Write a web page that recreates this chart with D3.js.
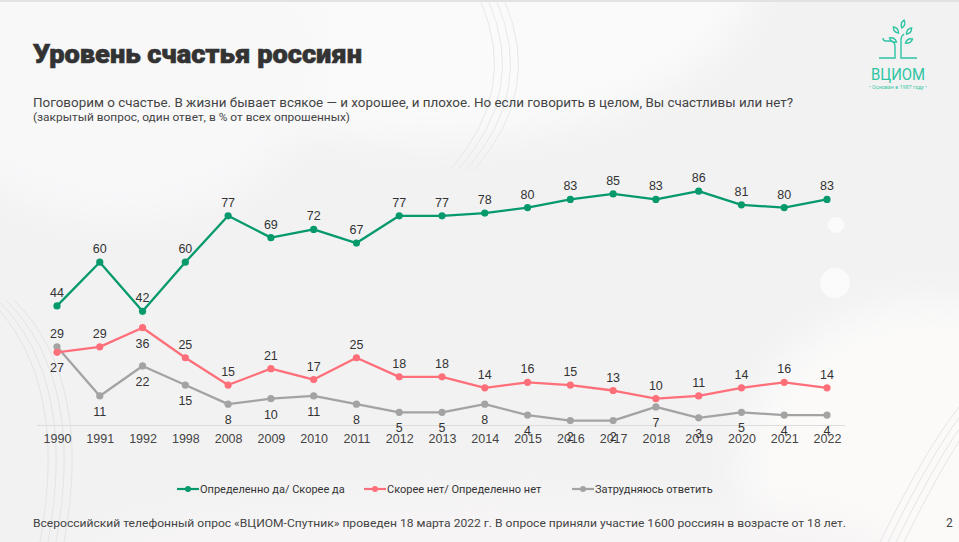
<!DOCTYPE html>
<html>
<head>
<meta charset="utf-8">
<script src="https://cdn.jsdelivr.net/npm/d3@7"></script>
<style>
  body { margin: 0; background: #fff; }
  svg { display: block; }
</style>
</head>
<body>
<svg></svg>
<script>
const years = ['1990', '1991', '1992', '1998', '2008', '2009', '2010', '2011', '2012', '2013',
  '2014', '2015', '2016', '2017', '2018', '2019', '2020', '2021', '2022'];
const happy = [44, 60, 42, 60, 77, 69, 72, 67, 77, 77, 78, 80, 83, 85, 83, 86, 81, 80, 83];
const unhappy = [27, 29, 36, 25, 15, 21, 17, 25, 18, 18, 14, 16, 15, 13, 10, 11, 14, 16, 14];
const unsure = [29, 11, 22, 15, 8, 10, 11, 8, 5, 5, 8, 4, 2, 2, 7, 3, 5, 4, 4];
const seriesNames = ['Определенно да/ Скорее да', 'Скорее нет/ Определенно нет', 'Затрудняюсь ответить'];

const width = 959;
const height = 542;

const svg = d3.select('svg').attr('width', width).attr('height', height);

// background
const defs = svg.append('defs');
const blur = defs.append('filter').attr('id', 'blur').attr('x', '-50%').attr('y', '-50%').attr('width', '200%').attr('height', '200%');
blur.append('feGaussianBlur').attr('stdDeviation', 18);

svg.append('rect').attr('width', width).attr('height', height).attr('fill', '#f2f2f3');
const bg = svg.append('g');
bg.append('ellipse').attr('cx', 430).attr('cy', -40).attr('rx', 330).attr('ry', 180).attr('fill', '#fafafa').attr('filter', 'url(#blur)');
bg.append('ellipse').attr('cx', 120).attr('cy', 60).attr('rx', 200).attr('ry', 160).attr('fill', '#f8f8f9').attr('filter', 'url(#blur)');
bg.append('ellipse').attr('cx', 930).attr('cy', 470).attr('rx', 190).attr('ry', 170).attr('fill', '#fbfaf9').attr('filter', 'url(#blur)');
bg.append('ellipse').attr('cx', 480).attr('cy', 560).attr('rx', 420).attr('ry', 70).attr('fill', '#f6f4f4').attr('filter', 'url(#blur)');
bg.append('circle').attr('cx', 835).attr('cy', 283).attr('r', 15).attr('fill', '#fbfbfb');
bg.append('circle').attr('cx', 836).attr('cy', 225).attr('r', 8).attr('fill', '#fbfbfb');
// faint arcs
[0, 8, 16, 24].forEach((d) => {
  bg.append('path')
    .attr('d', `M${-10 + d},300 Q${70 + d},380 ${40 + d},542`)
    .attr('fill', 'none').attr('stroke', '#e4e4e6').attr('stroke-width', 1);
  bg.append('path')
    .attr('d', `M${480 + d},0 Q${520 + d},90 ${450 + d},170`)
    .attr('fill', 'none').attr('stroke', '#e8e8ea').attr('stroke-width', 1);
  bg.append('path')
    .attr('d', `M${880 + d},542 Q${930 + d},440 ${965 + d},400`)
    .attr('fill', 'none').attr('stroke', '#e6e6e8').attr('stroke-width', 1);
});
svg.append('rect').attr('width', width).attr('height', 2).attr('fill', '#e2e2e2');

// header
svg.append('text')
  .attr('x', 33).attr('y', 63)
  .attr('font-family', 'Roboto, Arial, sans-serif')
  .attr('font-weight', 900)
  .attr('font-size', 25)
  .attr('fill', '#333')
  .attr('stroke', '#333')
  .attr('stroke-width', 0.6)
  .attr('textLength', 329)
  .attr('lengthAdjust', 'spacingAndGlyphs')
  .text('Уровень счастья россиян');

svg.append('text')
  .attr('x', 33).attr('y', 107)
  .attr('font-family', 'Roboto, Arial, sans-serif')
  .attr('font-size', 12.5)
  .attr('fill', '#444')
  .attr('textLength', 760)
  .attr('lengthAdjust', 'spacingAndGlyphs')
  .text('Поговорим о счастье. В жизни бывает всякое — и хорошее, и плохое. Но если говорить в целом, Вы счастливы или нет?');

svg.append('text')
  .attr('x', 33).attr('y', 121)
  .attr('font-family', 'Roboto, Arial, sans-serif')
  .attr('font-size', 11)
  .attr('fill', '#444')
  .attr('textLength', 317)
  .attr('lengthAdjust', 'spacingAndGlyphs')
  .text('(закрытый вопрос, один ответ, в % от всех опрошенных)');

// logo
const logo = svg.append('g').attr('stroke', '#2ec4a2').attr('fill', 'none').attr('stroke-width', 1.4);
logo.append('path').attr('d', 'M879,58 L895,58 L895,47 Q895,41 890,41 L886,41');
logo.append('path').attr('d', 'M917,58 L901,58 L901,40 Q901,36 904,34');
logo.append('path').attr('d', 'M886,41 Q883,41 883,38');
const leaf = (cx, cy, rot) => logo.append('path')
  .attr('d', 'M0,4 Q-3.5,0 0,-4 Q3.5,0 0,4Z')
  .attr('transform', `translate(${cx},${cy}) rotate(${rot})`);
leaf(903, 24, 15);
leaf(896, 30, -40);
leaf(909, 31, 40);
leaf(893, 40, -60);
leaf(909, 41, 60);
svg.append('text')
  .attr('x', 898).attr('y', 80)
  .attr('text-anchor', 'middle')
  .attr('font-family', 'Roboto, Arial, sans-serif')
  .attr('font-size', 17)
  .attr('fill', '#2ec4a2')
  .attr('textLength', 54)
  .attr('lengthAdjust', 'spacingAndGlyphs')
  .text('ВЦИОМ');
svg.append('text')
  .attr('x', 898).attr('y', 89)
  .attr('text-anchor', 'middle')
  .attr('font-family', 'Roboto, Arial, sans-serif')
  .attr('font-size', 5)
  .attr('fill', '#2ec4a2')
  .attr('textLength', 58)
  .text('• Основан в 1987 году •');

// chart
const xScale = d3.scalePoint().domain(years).range([57, 827]);
const yScale = d3.scaleLinear().domain([0, 100]).range([426, 153]);

const xAxis = d3.axisBottom(xScale).tickSize(0).tickPadding(9);
const axisG = svg.append('g')
  .attr('id', 'x-axis')
  .attr('transform', 'translate(0, 425)')
  .call(xAxis);
axisG.select('.domain').attr('d', 'M37,0.5H845').attr('stroke', '#dcdcdc');
axisG.selectAll('text')
  .attr('font-family', '"Liberation Sans", Arial, sans-serif')
  .attr('font-size', 12.5)
  .attr('fill', '#444');

const series = [
  { name: seriesNames[0], values: happy, color: '#05996c', below: () => false },
  { name: seriesNames[1], values: unhappy, color: '#ff6f7a', below: (i) => i === 0 || i === 2 },
  { name: seriesNames[2], values: unsure, color: '#a3a3a3', below: (i) => i !== 0 },
];

const line = d3.line()
  .x((d, i) => xScale(years[i]))
  .y((d) => yScale(d));

// draw grey first, then red, then green
series.slice().reverse().forEach((s) => {
  const g = svg.append('g');
  g.append('path')
    .datum(s.values)
    .attr('d', line)
    .attr('fill', 'none')
    .attr('stroke', s.color)
    .attr('stroke-width', 2.3)
    .attr('stroke-linejoin', 'round');
  g.selectAll('circle')
    .data(s.values)
    .enter()
    .append('circle')
    .attr('cx', (d, i) => xScale(years[i]))
    .attr('cy', (d) => yScale(d))
    .attr('r', 3.6)
    .attr('fill', s.color);
});

series.forEach((s) => {
  svg.append('g')
    .selectAll('text')
    .data(s.values)
    .enter()
    .append('text')
    .attr('x', (d, i) => xScale(years[i]))
    .attr('y', (d, i) => (s.below(i) ? yScale(d) + 20 : yScale(d) - 9))
    .attr('text-anchor', 'middle')
    .attr('font-family', '"Liberation Sans", Arial, sans-serif')
    .attr('font-size', 12.5)
    .attr('fill', '#333')
    .text((d) => d);
});

// legend
const legendX = [177, 364, 572];
series.forEach((s, i) => {
  const g = svg.append('g').attr('transform', 'translate(' + legendX[i] + ', 489)');
  g.append('line').attr('x1', 0).attr('x2', 22).attr('y1', 0).attr('y2', 0)
    .attr('stroke', s.color).attr('stroke-width', 2.2);
  g.append('circle').attr('cx', 11).attr('cy', 0).attr('r', 3).attr('fill', s.color);
  g.append('text')
    .attr('x', 23).attr('y', 4)
    .attr('font-family', 'Roboto, Arial, sans-serif')
    .attr('font-size', 11)
    .attr('fill', '#333')
    .text(s.name);
});

// footer
svg.append('text')
  .attr('x', 33).attr('y', 527)
  .attr('font-family', 'Roboto, Arial, sans-serif')
  .attr('font-size', 11.5)
  .attr('fill', '#444')
  .attr('textLength', 813)
  .attr('lengthAdjust', 'spacingAndGlyphs')
  .text('Всероссийский телефонный опрос «ВЦИОМ-Спутник» проведен 18 марта 2022 г. В опросе приняли участие 1600 россиян в возрасте от 18 лет.');
svg.append('text')
  .attr('x', 946).attr('y', 527)
  .attr('font-family', 'Roboto, Arial, sans-serif')
  .attr('font-size', 12)
  .attr('fill', '#444')
  .text('2');
</script>
</body>
</html>
